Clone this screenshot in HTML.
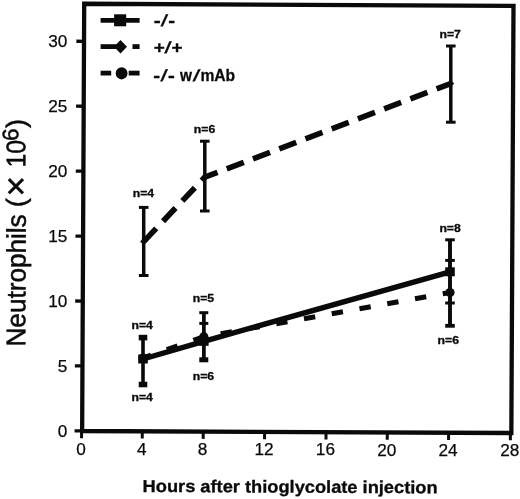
<!DOCTYPE html>
<html><head><meta charset="utf-8"><title>Neutrophils chart</title>
<style>
html,body{margin:0;padding:0;background:#fff;}
svg{display:block;}
text{font-family:"Liberation Sans",Arial,Helvetica,sans-serif;fill:#0a0a0a;}
.tk{font-size:17.2px;stroke:#0a0a0a;stroke-width:0.25px;}
.xt{font-size:17.3px;font-weight:bold;stroke:#0a0a0a;stroke-width:0.3px;}
.yt{font-size:27px;stroke:#0a0a0a;stroke-width:0.5px;}
.lg{font-size:16.4px;font-weight:bold;stroke:#0a0a0a;stroke-width:0.3px;}
.nl{font-size:10.6px;font-weight:bold;stroke:#0a0a0a;stroke-width:0.3px;}
</style></head><body>
<svg width="520" height="499" viewBox="0 0 520 499">
<rect x="0" y="0" width="520" height="499" fill="#fff"/>
<polygon points="84.2,3.75 513.5,5.9 511.35,433.0 82.15,431.0" fill="none" stroke="#0a0a0a" stroke-width="4.3" stroke-linejoin="miter"/>
<line x1="76.40" y1="41.26" x2="84.00" y2="41.30" stroke="#0a0a0a" stroke-width="3.3"/>
<text x="67.3" y="47.40" text-anchor="end" class="tk">30</text>
<line x1="76.09" y1="106.19" x2="83.69" y2="106.23" stroke="#0a0a0a" stroke-width="3.3"/>
<text x="67.3" y="112.33" text-anchor="end" class="tk">25</text>
<line x1="75.78" y1="171.13" x2="83.38" y2="171.17" stroke="#0a0a0a" stroke-width="3.3"/>
<text x="67.3" y="177.27" text-anchor="end" class="tk">20</text>
<line x1="75.48" y1="236.06" x2="83.08" y2="236.10" stroke="#0a0a0a" stroke-width="3.3"/>
<text x="67.3" y="242.20" text-anchor="end" class="tk">15</text>
<line x1="75.17" y1="300.99" x2="82.77" y2="301.03" stroke="#0a0a0a" stroke-width="3.3"/>
<text x="67.3" y="307.13" text-anchor="end" class="tk">10</text>
<line x1="74.86" y1="365.93" x2="82.46" y2="365.97" stroke="#0a0a0a" stroke-width="3.3"/>
<text x="67.3" y="372.07" text-anchor="end" class="tk">5</text>
<line x1="74.55" y1="430.86" x2="82.15" y2="430.90" stroke="#0a0a0a" stroke-width="3.3"/>
<text x="67.3" y="437.00" text-anchor="end" class="tk">0</text>
<line x1="81.60" y1="431.00" x2="81.57" y2="438.30" stroke="#0a0a0a" stroke-width="3"/>
<text x="81.00" y="455.00" text-anchor="middle" class="tk">0</text>
<line x1="142.30" y1="431.29" x2="142.27" y2="438.59" stroke="#0a0a0a" stroke-width="3"/>
<text x="141.70" y="455.10" text-anchor="middle" class="tk">4</text>
<line x1="203.20" y1="431.57" x2="203.17" y2="438.87" stroke="#0a0a0a" stroke-width="3"/>
<text x="202.60" y="455.20" text-anchor="middle" class="tk">8</text>
<line x1="264.60" y1="431.86" x2="264.57" y2="439.16" stroke="#0a0a0a" stroke-width="3"/>
<text x="264.00" y="455.30" text-anchor="middle" class="tk">12</text>
<line x1="326.00" y1="432.14" x2="325.97" y2="439.44" stroke="#0a0a0a" stroke-width="3"/>
<text x="325.40" y="455.40" text-anchor="middle" class="tk">16</text>
<line x1="387.30" y1="432.43" x2="387.27" y2="439.73" stroke="#0a0a0a" stroke-width="3"/>
<text x="386.70" y="455.50" text-anchor="middle" class="tk">20</text>
<line x1="448.60" y1="432.71" x2="448.57" y2="440.01" stroke="#0a0a0a" stroke-width="3"/>
<text x="448.00" y="455.60" text-anchor="middle" class="tk">24</text>
<line x1="510.40" y1="433.00" x2="510.37" y2="440.30" stroke="#0a0a0a" stroke-width="3"/>
<text x="509.80" y="455.70" text-anchor="middle" class="tk">28</text>
<text x="142.6" y="491.9" class="xt" textLength="295" lengthAdjust="spacingAndGlyphs" transform="rotate(0.28 143 492)">Hours after thioglycolate injection</text>
<text transform="translate(25.2 346.5) rotate(-89.72)" class="yt" textLength="132.2" lengthAdjust="spacingAndGlyphs">Neutrophils</text>
<text transform="translate(25.2 207.2) rotate(-89.72)" class="yt" >(</text>
<text transform="translate(27.6 196.6) rotate(-89.72)" class="yt" style="font-size:35px">×</text>
<text transform="translate(25.2 167.6) rotate(-89.72)" class="yt" textLength="27.6" lengthAdjust="spacingAndGlyphs">10</text>
<text transform="translate(18.2 141.0) rotate(-89.72)" class="yt" style="font-size:22.5px">6</text>
<text transform="translate(25.2 128.0) rotate(-89.72)" class="yt" >)</text>
<line x1="100.6" y1="20.3" x2="139.6" y2="20.3" stroke="#0a0a0a" stroke-width="4.8"/>
<rect x="114.1" y="14.3" width="12.1" height="12" fill="#0a0a0a"/>
<line x1="100.6" y1="46.6" x2="118" y2="46.6" stroke="#0a0a0a" stroke-width="4.8"/>
<line x1="132.5" y1="46.6" x2="139.6" y2="46.6" stroke="#0a0a0a" stroke-width="4.8"/>
<polygon points="114.0,46.7 120.5,39.9 127.0,46.7 120.5,53.6" fill="#0a0a0a"/>
<line x1="100.6" y1="73.1" x2="111.2" y2="73.1" stroke="#0a0a0a" stroke-width="4.8"/>
<line x1="128.7" y1="73.1" x2="139.6" y2="73.1" stroke="#0a0a0a" stroke-width="4.8"/>
<ellipse cx="121.6" cy="73.3" rx="5.9" ry="6.1" fill="#0a0a0a"/>
<text transform="translate(153.63 26.3) scale(1.273 1)" class="lg" style="font-size:16.4px">-</text>
<text transform="translate(160.55 26.3) skewX(-13.16) scale(1.120 1)" class="lg" style="font-size:16.4px">/</text>
<text transform="translate(168.15 26.3) scale(1.249 1)" class="lg" style="font-size:16.4px">-</text>
<text transform="translate(153.65 52.8) scale(1.155 1)" class="lg" style="font-size:16.4px">+</text>
<text transform="translate(164.34 52.8) skewX(-11.82) scale(1.120 1)" class="lg" style="font-size:16.4px">/</text>
<text transform="translate(171.45 52.8) scale(1.155 1)" class="lg" style="font-size:16.4px">+</text>
<text transform="translate(153.35 80.6) scale(1.249 1)" class="lg" style="font-size:16.4px">-</text>
<text transform="translate(160.24 80.6) skewX(-12.72) scale(1.120 1)" class="lg" style="font-size:16.4px">/</text>
<text transform="translate(167.95 80.6) scale(1.249 1)" class="lg" style="font-size:16.4px">-</text>
<text transform="translate(179.89 80.6) scale(0.935 1)" class="lg" style="font-size:16.4px">w</text>
<text transform="translate(192.46 80.6) skewX(-14.49) scale(1.120 1)" class="lg" style="font-size:16.4px">/</text>
<text x="200.4" y="80.6" class="lg" textLength="34.8" lengthAdjust="spacingAndGlyphs">mAb</text>
<line x1="143.7" y1="207.4" x2="143.7" y2="275.5" stroke="#0a0a0a" stroke-width="3.5"/><line x1="138.89999999999998" y1="207.4" x2="148.5" y2="207.4" stroke="#0a0a0a" stroke-width="3.0"/><line x1="138.89999999999998" y1="275.5" x2="148.5" y2="275.5" stroke="#0a0a0a" stroke-width="3.0"/>
<line x1="204.8" y1="141.2" x2="204.8" y2="211.0" stroke="#0a0a0a" stroke-width="3.5"/><line x1="200.0" y1="141.2" x2="209.60000000000002" y2="141.2" stroke="#0a0a0a" stroke-width="3.0"/><line x1="200.0" y1="211.0" x2="209.60000000000002" y2="211.0" stroke="#0a0a0a" stroke-width="3.0"/>
<line x1="450.8" y1="46.0" x2="450.8" y2="122.2" stroke="#0a0a0a" stroke-width="3.5"/><line x1="446.0" y1="46.0" x2="455.6" y2="46.0" stroke="#0a0a0a" stroke-width="3.0"/><line x1="446.0" y1="122.2" x2="455.6" y2="122.2" stroke="#0a0a0a" stroke-width="3.0"/>
<polyline points="143.7,241.6 204.8,177.2 450.6,83.6" fill="none" stroke="#0a0a0a" stroke-width="5.7" stroke-dasharray="18.2 9.87" stroke-linejoin="round"/>
<polygon points="140.1,241.6 143.7,238.0 147.29999999999998,241.6 143.7,245.2" fill="#0a0a0a"/>
<polygon points="201.20000000000002,177.2 204.8,173.6 208.4,177.2 204.8,180.79999999999998" fill="#0a0a0a"/>
<polygon points="447.0,83.6 450.6,80.0 454.20000000000005,83.6 450.6,87.19999999999999" fill="#0a0a0a"/>
<text x="143.4" y="196.5" class="nl" textLength="21.4" lengthAdjust="spacingAndGlyphs" text-anchor="middle">n=4</text>
<text x="204.5" y="132.8" class="nl" textLength="21.4" lengthAdjust="spacingAndGlyphs" text-anchor="middle">n=6</text>
<text x="450.2" y="38.0" class="nl" textLength="21.4" lengthAdjust="spacingAndGlyphs" text-anchor="middle">n=7</text>
<line x1="143.0" y1="337.6" x2="143.0" y2="384.5" stroke="#0a0a0a" stroke-width="3.6"/><line x1="138.7" y1="337.6" x2="147.3" y2="337.6" stroke="#0a0a0a" stroke-width="5.6"/><line x1="138.7" y1="384.5" x2="147.3" y2="384.5" stroke="#0a0a0a" stroke-width="5.6"/>
<line x1="203.8" y1="312.7" x2="203.8" y2="359.8" stroke="#0a0a0a" stroke-width="3.4"/><line x1="199.3" y1="312.7" x2="208.3" y2="312.7" stroke="#0a0a0a" stroke-width="3.0"/><line x1="199.3" y1="323.4" x2="208.3" y2="323.4" stroke="#0a0a0a" stroke-width="3.0"/>
<line x1="203.8" y1="312.7" x2="203.8" y2="359.8" stroke="#0a0a0a" stroke-width="3.4"/><line x1="199.3" y1="359.8" x2="208.3" y2="359.8" stroke="#0a0a0a" stroke-width="5.0"/>
<line x1="450.0" y1="239.8" x2="450.0" y2="325.8" stroke="#0a0a0a" stroke-width="3.6"/><line x1="445.2" y1="239.8" x2="454.8" y2="239.8" stroke="#0a0a0a" stroke-width="3.0"/><line x1="445.2" y1="260.4" x2="454.8" y2="260.4" stroke="#0a0a0a" stroke-width="3.0"/><line x1="445.2" y1="303.0" x2="454.8" y2="303.0" stroke="#0a0a0a" stroke-width="3.0"/>
<line x1="450.0" y1="239.8" x2="450.0" y2="325.8" stroke="#0a0a0a" stroke-width="3.6"/><line x1="445.2" y1="325.8" x2="454.8" y2="325.8" stroke="#0a0a0a" stroke-width="3.8"/>
<polyline points="143.0,358.0 203.8,336.7 450.0,292.5" fill="none" stroke="#0a0a0a" stroke-width="5.0" stroke-dasharray="11.4 16.8" stroke-dashoffset="3"/>
<polyline points="143.0,359.0 203.8,341.3 450.0,271.8" fill="none" stroke="#0a0a0a" stroke-width="5.4" stroke-linejoin="round"/>
<rect x="138.2" y="354.5" width="9.6" height="9" fill="#0a0a0a"/>
<rect x="199.0" y="336.8" width="9.6" height="9" fill="#0a0a0a"/>
<rect x="445.2" y="267.3" width="9.6" height="9" fill="#0a0a0a"/>
<circle cx="143.0" cy="358.0" r="4.6" fill="#0a0a0a"/>
<circle cx="203.8" cy="336.7" r="4.6" fill="#0a0a0a"/>
<circle cx="450.0" cy="292.5" r="4.6" fill="#0a0a0a"/>
<text x="142.2" y="329.0" class="nl" textLength="21.4" lengthAdjust="spacingAndGlyphs" text-anchor="middle">n=4</text>
<text x="142.2" y="400.7" class="nl" textLength="21.4" lengthAdjust="spacingAndGlyphs" text-anchor="middle">n=4</text>
<text x="203.4" y="301.7" class="nl" textLength="21.4" lengthAdjust="spacingAndGlyphs" text-anchor="middle">n=5</text>
<text x="203.4" y="380.0" class="nl" textLength="21.4" lengthAdjust="spacingAndGlyphs" text-anchor="middle">n=6</text>
<text x="450.1" y="231.6" class="nl" textLength="21.4" lengthAdjust="spacingAndGlyphs" text-anchor="middle">n=8</text>
<text x="448.3" y="343.8" class="nl" textLength="21.4" lengthAdjust="spacingAndGlyphs" text-anchor="middle">n=6</text>
</svg>
</body></html>
